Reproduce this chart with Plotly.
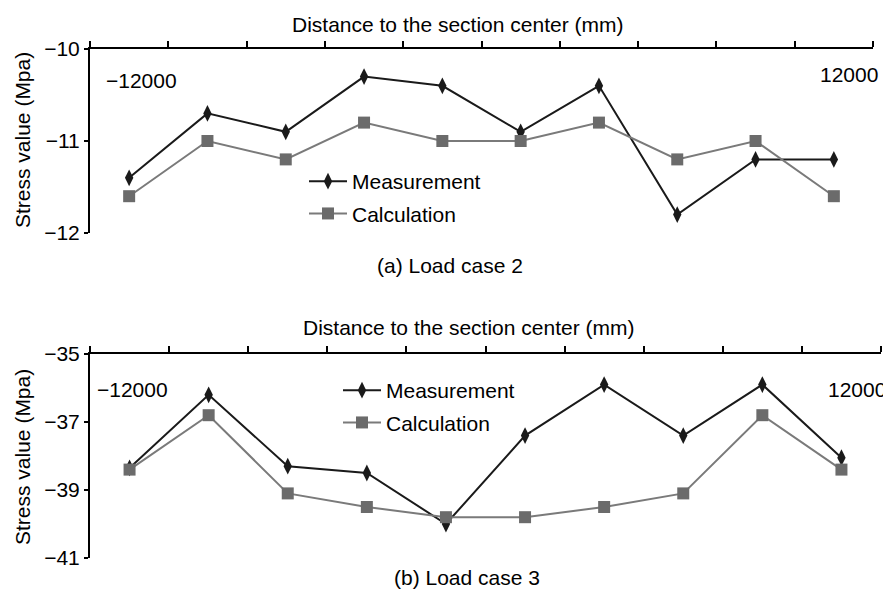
import plotly.graph_objects as go

# ---- data ----
positions = list(range(1, 11))          # 10 measuring sections from -12000 to 12000 mm
end_labels = ["\u221212000", "12000"]
meas_a = [-11.4, -10.7, -10.9, -10.3, -10.4, -10.9, -10.4, -11.8, -11.2, -11.2]
calc_a = [-11.6, -11.0, -11.2, -10.8, -11.0, -11.0, -10.8, -11.2, -11.0, -11.6]
meas_b = [-38.35, -36.2, -38.3, -38.5, -40.0, -37.4, -35.9, -37.4, -35.9, -38.05]
calc_b = [-38.4, -36.8, -39.1, -39.5, -39.8, -39.8, -39.5, -39.1, -36.8, -38.4]
yticks_a = [-10, -11, -12]
yticks_b = [-35, -37, -39, -41]
series_names = ["Measurement", "Calculation"]
subtitles = ["(a) Load case 2", "(b) Load case 3"]
x_title = "Distance to the section center (mm)"
y_title = "Stress value (Mpa)"

W, H = 891, 589
OX, OY = 8, 8          # page body margin offset
FONT = "Liberation Sans, Arial, Helvetica, sans-serif"
FS = 21
MEAS_COL = "#1a1a1a"
CALC_LINE = "#7a7a7a"
CALC_MARK = "#6b6b6b"

def px(x):
    return (x - OX) / W

def py(y):
    return 1 - (y - OY) / H

fig = go.Figure()

def add_pair(meas, calc, xa, ya, legend):
    fig.add_trace(go.Scatter(
        x=positions, y=meas, name=series_names[0], mode="lines+markers",
        xaxis=xa, yaxis=ya, legend=legend, legendgroup=legend + "m",
        line=dict(color=MEAS_COL, width=2),
        marker=dict(symbol="diamond-tall", size=12, color=MEAS_COL),
    ))
    fig.add_trace(go.Scatter(
        x=positions, y=calc, name=series_names[1], mode="lines+markers",
        xaxis=xa, yaxis=ya, legend=legend, legendgroup=legend + "c",
        line=dict(color=CALC_LINE, width=2),
        marker=dict(symbol="square", size=12, color=CALC_MARK),
    ))

add_pair(meas_a, calc_a, "x", "y", "legend")
add_pair(meas_b, calc_b, "x2", "y2", "legend2")

bounds = [p - 0.5 for p in positions] + [positions[-1] + 0.5]

xcommon = dict(
    range=[bounds[0], bounds[-1]], side="top", showline=True, linecolor="black",
    linewidth=2, ticks="outside", ticklen=6, tickwidth=1.5, tickcolor="black",
    tickvals=bounds, showticklabels=False, showgrid=False, zeroline=False,
    fixedrange=True,
)
ycommon = dict(
    showline=True, linecolor="black", linewidth=2, ticks="outside", ticklen=4,
    tickwidth=1.5, tickcolor="black", showgrid=False, zeroline=False,
    tickfont=dict(family=FONT, size=FS, color="black"),
)

fig.update_layout(
    width=W, height=H,
    margin=dict(l=0, r=0, t=0, b=0, pad=0, autoexpand=False),
    paper_bgcolor="white", plot_bgcolor="white",
    font=dict(family=FONT, size=FS, color="black"),
    xaxis=dict(domain=[px(90), px(873)], anchor="y", **xcommon),
    yaxis=dict(domain=[py(233), py(49)], anchor="x", range=[-12, -10],
               tickvals=yticks_a,
               ticktext=[f"\u2212{abs(v)}" for v in yticks_a], **ycommon),
    xaxis2=dict(domain=[px(90), px(881)], anchor="y2", **xcommon),
    yaxis2=dict(domain=[py(558), py(354)], anchor="x2", range=[-41, -35],
                tickvals=yticks_b,
                ticktext=[f"\u2212{abs(v)}" for v in yticks_b], **ycommon),
    legend=dict(x=px(304), y=py(161), xanchor="left", yanchor="top",
                bgcolor="rgba(0,0,0,0)", font=dict(family=FONT, size=FS),
                tracegroupgap=2, itemwidth=38),
    legend2=dict(x=px(338), y=py(370), xanchor="left", yanchor="top",
                 bgcolor="rgba(0,0,0,0)", font=dict(family=FONT, size=FS),
                 tracegroupgap=2, itemwidth=38),
    showlegend=True,
)

ann = []
# x-axis titles
ann.append(dict(text=x_title, x=px(457), y=py(24), xref="paper", yref="paper",
                showarrow=False, xanchor="center", yanchor="middle"))
ann.append(dict(text=x_title, x=px(468), y=py(327), xref="paper", yref="paper",
                showarrow=False, xanchor="center", yanchor="middle"))
# y-axis titles
ann.append(dict(text=y_title, x=px(22), y=py(140), xref="paper", yref="paper",
                showarrow=False, textangle=-90, xanchor="center", yanchor="middle"))
ann.append(dict(text=y_title, x=px(22), y=py(457), xref="paper", yref="paper",
                showarrow=False, textangle=-90, xanchor="center", yanchor="middle"))
# subtitles
ann.append(dict(text=subtitles[0], x=px(450), y=py(265), xref="paper", yref="paper",
                showarrow=False, xanchor="center", yanchor="middle"))
ann.append(dict(text=subtitles[1], x=px(467), y=py(577), xref="paper", yref="paper",
                showarrow=False, xanchor="center", yanchor="middle"))
# end labels
ann.append(dict(text=end_labels[0], x=px(104), y=py(80), xref="paper", yref="paper",
                showarrow=False, xanchor="left", yanchor="middle"))
ann.append(dict(text=end_labels[1], x=px(880), y=py(75), xref="paper", yref="paper",
                showarrow=False, xanchor="right", yanchor="middle"))
ann.append(dict(text=end_labels[0], x=px(95), y=py(389), xref="paper", yref="paper",
                showarrow=False, xanchor="left", yanchor="middle"))
ann.append(dict(text=end_labels[1], x=px(888), y=py(389), xref="paper", yref="paper",
                showarrow=False, xanchor="right", yanchor="middle"))
fig.update_layout(annotations=ann)

fig.write_html("out.html")
